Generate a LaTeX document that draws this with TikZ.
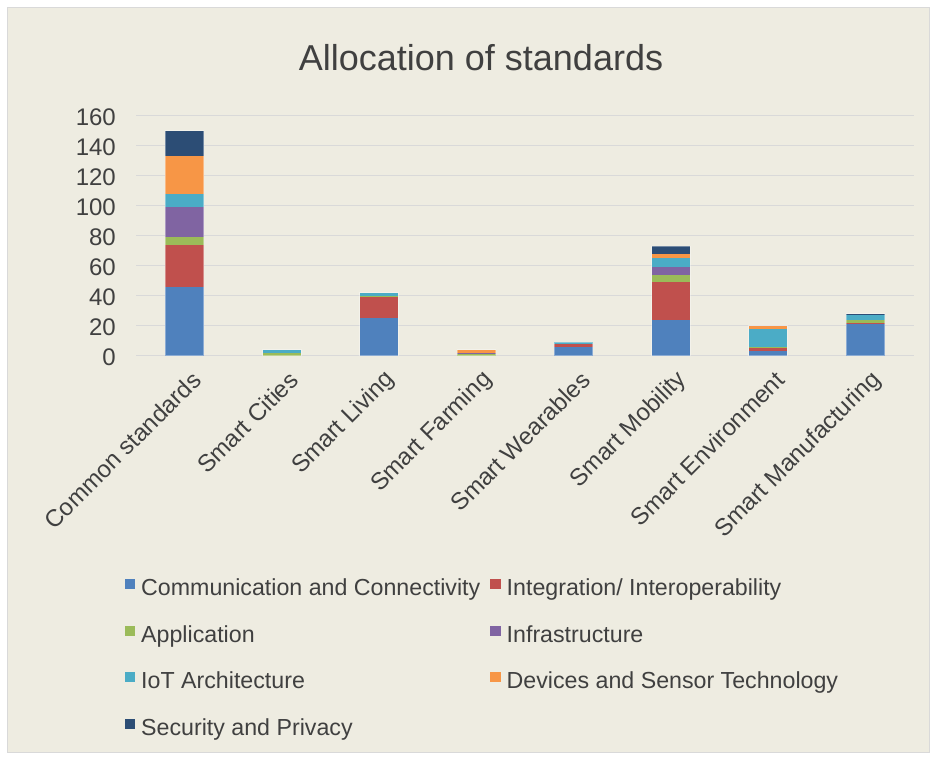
\documentclass[tikz,border=0pt]{standalone}
\usepackage{fontspec}
\setmainfont{Liberation Sans}
\definecolor{bgc}{HTML}{EEECE1}
\definecolor{framec}{HTML}{D9D9D9}
\definecolor{gridc}{HTML}{D9D9D9}
\definecolor{txtc}{HTML}{404040}
\definecolor{ser1}{HTML}{4F81BD}
\definecolor{ser2}{HTML}{C0504D}
\definecolor{ser3}{HTML}{9BBB59}
\definecolor{ser4}{HTML}{8064A2}
\definecolor{ser5}{HTML}{4BACC6}
\definecolor{ser6}{HTML}{F79646}
\definecolor{ser7}{HTML}{2C4D75}
\newcommand\stackbar[2]{%
  \xdef\cumul{0}%
  \foreach \v [count=\k] in {#2} {%
    \pgfmathsetmacro\newc{\cumul+\v}%
    \ifdim \v pt>0pt
      \fill[fill=ser\k] ({136+97.25*(#1+0.5)-19.35},{355.7-1.5*\cumul}) rectangle ({136+97.25*(#1+0.5)+19.35},{355.7-1.5*\newc});
    \fi
    \xdef\cumul{\newc}%
  }%
  \pgfmathsetmacro\tot{\cumul}%
  \draw[white, opacity=0.35, line width=1pt] ({136+97.25*(#1+0.5)-19.35},355.7) rectangle ({136+97.25*(#1+0.5)+19.35},{355.7-1.5*\tot});
}
\tikzset{
  axlab/.style={anchor=east, inner sep=0pt, text=txtc, font=\fontsize{24}{28}\selectfont},
  catlab/.style={anchor=east, rotate=45, inner sep=0pt, text=txtc, font=\fontsize{24}{28}\selectfont},
  legtxt/.style={anchor=base west, inner sep=0pt, text=txtc, font=\fontsize{23.2}{27}\selectfont},
}
\begin{document}
\begin{tikzpicture}[x=1pt,y=-1pt]
\useasboundingbox (0,0) rectangle (935,758);
\fill[white] (0,0) rectangle (935,758);
\filldraw[fill=bgc, draw=framec, line width=1pt] (7,7) rectangle (929,752);
\node[text=txtc, font=\fontsize{36}{40}\selectfont, anchor=base, inner sep=0pt] (title) at (481,70) {Allocation of standards};
% gridlines and axis labels
\foreach \t in {0,20,...,160} {
  \draw[gridc, line width=1.5pt] (136,{355.7-1.5*\t}) -- (914,{355.7-1.5*\t});
  \node[axlab] (ax\t) at (116,{357.5-1.5*\t}) {\t};
}
% bars
\stackbar{0}{46,28,5,20,9,25,17}
\stackbar{1}{0,0,2,0,2,0,0}
\stackbar{2}{25,14,1,0,2,0,0}
\stackbar{3}{0,0,1,1,0,2,0}
\stackbar{4}{6,2,0,0,1,0,0}
\stackbar{5}{24,25,5,5,6,3,5}
\stackbar{6}{3,2,1,0,12,2,0}
\stackbar{7}{21,1,2,0,3,0,1}
% category labels
\foreach \c [count=\i from 0] in {Common standards,Smart Cities,Smart Living,Smart Farming,Smart Wearables,Smart Mobility,Smart Environment,Smart Manufacturing} {
  \node[catlab] (cat\i) at ({136+97.25*(\i+0.5)+12},376) {\c};
}
% legend
\foreach \n/\x/\y/\s in {1/124.5/595/{Communication and Connectivity}, 2/490/595/{Integration/ Interoperability}, 3/124.5/642/{Application}, 4/490/642/{Infrastructure}, 5/124.5/688/{IoT Architecture}, 6/490/688/{Devices and Sensor Technology}, 7/124.5/735/{Security and Privacy}} {
  \fill[ser\n] (\x,{\y-15.7}) rectangle ({\x+10.5},{\y-5.7});
  \node[legtxt] (leg\n) at ({\x+16.5},\y) {\s};
}
\end{tikzpicture}
\end{document}
